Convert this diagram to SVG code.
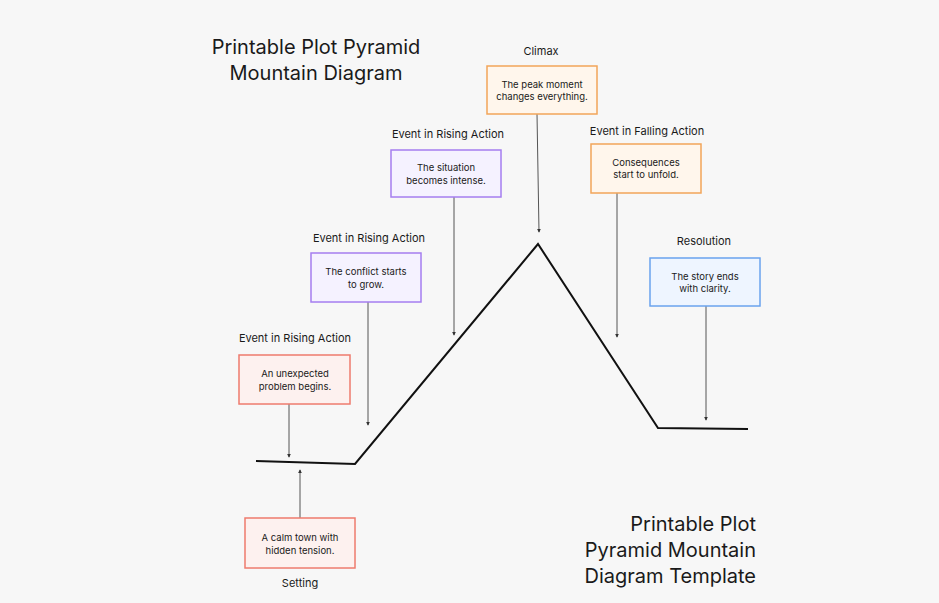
<svg xmlns="http://www.w3.org/2000/svg" width="939" height="603" viewBox="0 0 939 603">
<style>
text{font-family:Inter,"Liberation Sans",sans-serif;fill:#1a1a1a}
.lbl{font-size:11px;text-anchor:middle}
.bt{font-size:9.5px;text-anchor:middle}
.title{font-size:20px}
.box{stroke-width:1.5}
.red{fill:#fdf1ef;stroke:#ee7b6e}
.pur{fill:#f5f2ff;stroke:#a57ef0}
.org{fill:#fff6ec;stroke:#f2a55a}
.blu{fill:#eef5ff;stroke:#6aa3ee}
.c{stroke:#555;stroke-width:1;fill:none;marker-end:url(#a)}
</style>
<defs><marker id="a" viewBox="0 0 6 6" refX="5" refY="3" markerWidth="4" markerHeight="4" orient="auto"><path d="M0,0L6,3L0,6z" fill="#333"/></marker></defs>
<rect width="939" height="603" fill="#f7f7f7"/>
<text class="title" x="316" y="54" text-anchor="middle">Printable Plot Pyramid</text>
<text class="title" x="316" y="80" text-anchor="middle">Mountain Diagram</text>
<text class="title" x="756" y="531" text-anchor="end">Printable Plot</text>
<text class="title" x="756" y="557" text-anchor="end">Pyramid Mountain</text>
<text class="title" x="756" y="583" text-anchor="end">Diagram Template</text>
<path d="M256,461L355,464L538,244L658,428L748,429" fill="none" stroke="#111" stroke-width="2"/>
<g id="connectors">
<path class="c" d="M300,518V470"/>
<path class="c" d="M289,404V457"/>
<path class="c" d="M368,302V425"/>
<path class="c" d="M454,197V335"/>
<path class="c" d="M537,114L539,232"/>
<path class="c" d="M617,193V337"/>
<path class="c" d="M706,306V420"/>
</g>
<g id="setting"><rect class="box red" x="245" y="518" width="110" height="50"/><text class="bt" x="300" y="541">A calm town with</text><text class="bt" x="300" y="554">hidden tension.</text><text class="lbl" x="300" y="587">Setting</text></g>
<g id="rising1"><text class="lbl" x="295" y="342">Event in Rising Action</text><rect class="box red" x="239" y="355" width="111" height="49"/><text class="bt" x="295" y="377">An unexpected</text><text class="bt" x="295" y="390">problem begins.</text></g>
<g id="rising2"><text class="lbl" x="369" y="242">Event in Rising Action</text><rect class="box pur" x="311" y="253" width="110" height="49"/><text class="bt" x="366" y="275">The conflict starts</text><text class="bt" x="366" y="288">to grow.</text></g>
<g id="rising3"><text class="lbl" x="448" y="138">Event in Rising Action</text><rect class="box pur" x="391" y="150" width="110" height="47"/><text class="bt" x="446" y="171">The situation</text><text class="bt" x="446" y="184">becomes intense.</text></g>
<g id="climax"><text class="lbl" x="541" y="55">Climax</text><rect class="box org" x="487" y="66" width="110" height="48"/><text class="bt" x="542" y="88">The peak moment</text><text class="bt" x="542" y="100">changes everything.</text></g>
<g id="falling"><text class="lbl" x="647" y="135">Event in Falling Action</text><rect class="box org" x="591" y="144" width="110" height="49"/><text class="bt" x="646" y="166">Consequences</text><text class="bt" x="646" y="178">start to unfold.</text></g>
<g id="resolution"><text class="lbl" x="704" y="245">Resolution</text><rect class="box blu" x="650" y="258" width="110" height="48"/><text class="bt" x="705" y="280">The story ends</text><text class="bt" x="705" y="292">with clarity.</text></g>
</svg>
